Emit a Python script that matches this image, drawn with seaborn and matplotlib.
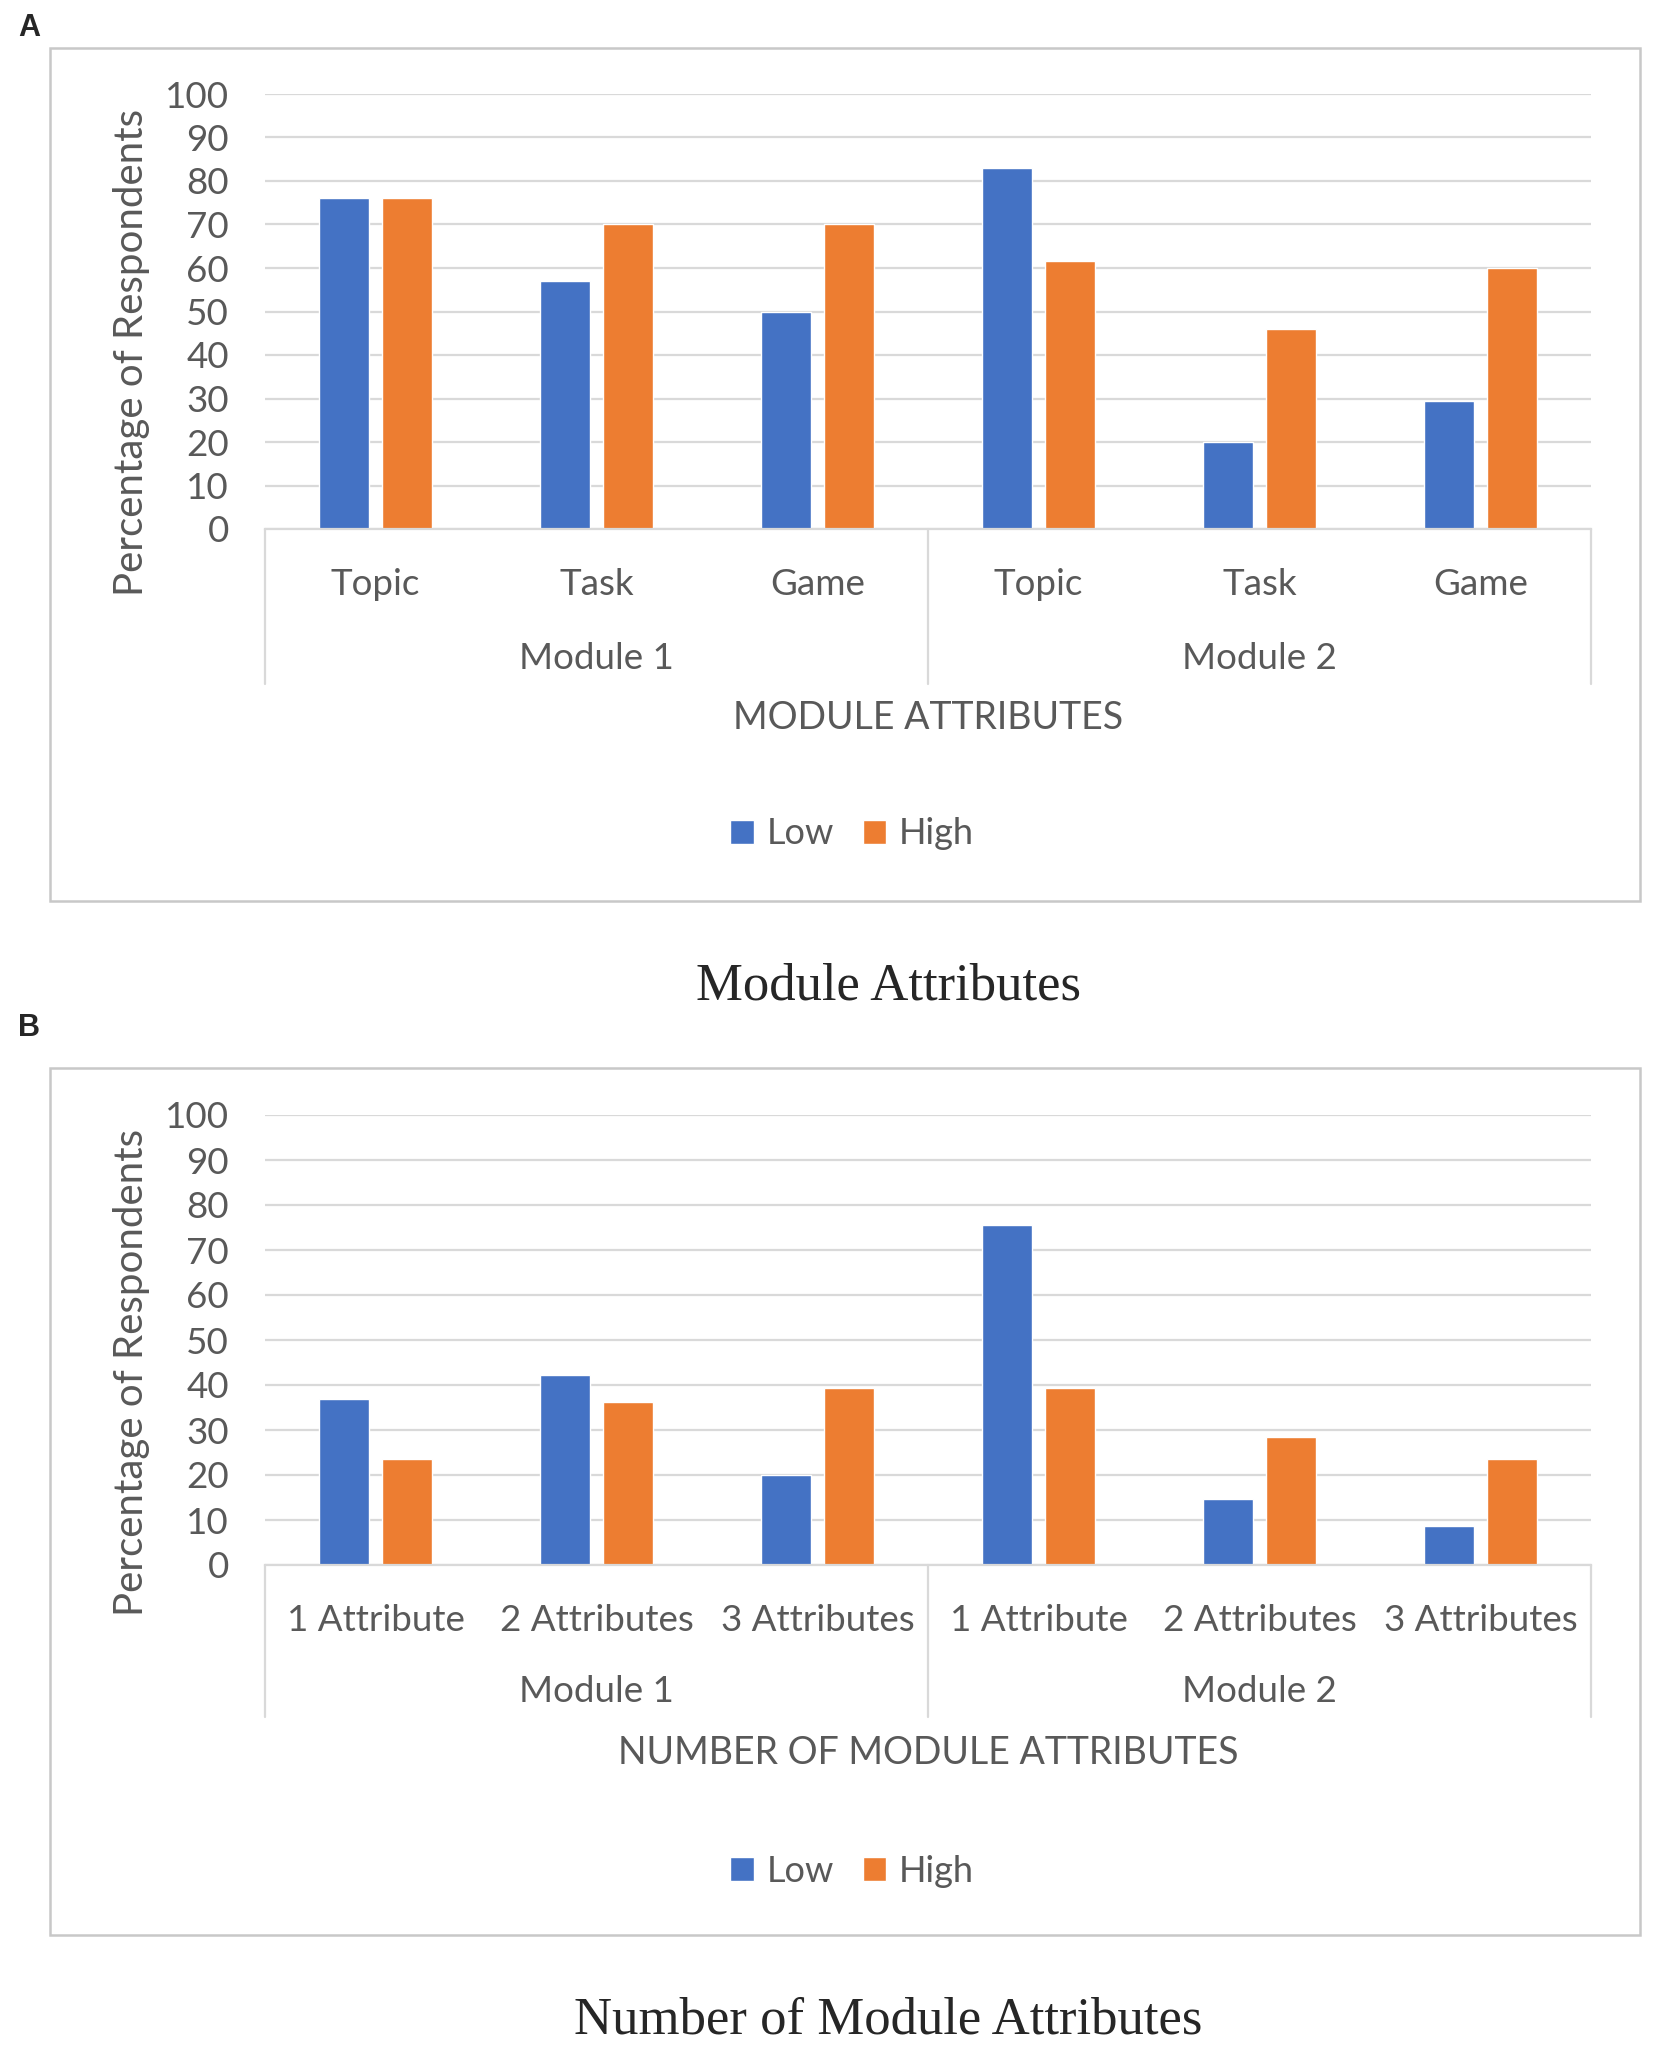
import pandas as pd
import seaborn as sns
import matplotlib.pyplot as plt
import matplotlib.transforms as mtransforms
from matplotlib.patches import Rectangle

# values
modules = ["Module 1", "Module 2"]
attributes = ["Topic", "Task", "Game"]
attr_counts = ["1 Attribute", "2 Attributes", "3 Attributes"]
levels = ["Low", "High"]

attr_low = [76, 57, 50, 83, 20, 29.5]
attr_high = [76, 70, 70, 61.5, 46, 60]

count_low = [37, 42.2, 20, 75.6, 14.7, 8.7]
count_high = [23.6, 36.3, 39.4, 39.4, 28.5, 23.6]

palette = {"Low": "#4472C4", "High": "#ED7D31"}
text_grey = "#595959"
line_grey = "#D9D9D9"

sns.set_theme(style="white")
plt.rcParams["font.family"] = ["Lato", "DejaVu Sans"]


def make_frame(cats, low, high):
    rows = []
    keys = []
    for m_i, mod in enumerate(modules):
        for c_i, cat in enumerate(cats):
            key = f"{mod}|{cat}"
            keys.append(key)
            k = m_i * len(cats) + c_i
            rows.append({"key": key, "level": "Low", "value": low[k]})
            rows.append({"key": key, "level": "High", "value": high[k]})
    return pd.DataFrame(rows), keys


def draw_panel(ax, cats, low, high, xtitle, sep_y, mod_y, title_y, ylab_y):
    df, keys = make_frame(cats, low, high)
    sns.barplot(data=df, x="key", y="value", hue="level", order=keys,
                hue_order=levels, palette=palette, width=0.57, gap=0.21,
                saturation=1, ax=ax)
    ax.set_ylim(0, 100)
    ax.set_yticks(range(0, 101, 10))
    ax.grid(axis="y", color=line_grey, linewidth=1.6)
    ax.set_axisbelow(True)
    for s in ["top", "right", "left"]:
        ax.spines[s].set_visible(False)
    ax.spines["bottom"].set_color(line_grey)
    ax.spines["bottom"].set_linewidth(1.6)
    ax.set_xticks(range(len(keys)))
    ax.set_xticklabels(cats * len(modules))
    ax.tick_params(axis="both", length=0, labelsize=26.5, colors=text_grey)
    ax.tick_params(axis="x", pad=28)
    ax.tick_params(axis="y", pad=26)
    ax.set_xlabel("")
    ax.set_ylabel("Percentage of Respondents", fontsize=29, color=text_grey)
    ax.yaxis.set_label_coords(-0.087, ylab_y)

    trans = mtransforms.blended_transform_factory(ax.transData, ax.transAxes)
    n = len(cats)
    for xb in [-0.5, n - 0.5, 2 * n - 0.5]:
        ax.plot([xb, xb], [0, sep_y], transform=trans, color=line_grey,
                linewidth=1.6, clip_on=False)
    for m_i, mod in enumerate(modules):
        ax.text(m_i * n + (n - 1) / 2, mod_y, mod, transform=trans,
                ha="center", va="center", fontsize=26.5, color=text_grey)
    ax.text(0.5, title_y, xtitle, transform=ax.transAxes, ha="center",
            va="center", fontsize=27, color=text_grey)
    ax.set_xlim(-0.5, 2 * n - 0.5)

    handles, labels = ax.get_legend_handles_labels()
    ax.get_legend().remove()
    return handles, labels


fig = plt.figure(figsize=(16.54, 20.5), dpi=100)

# outer boxes of the two chart panels
for y0, y1 in [(48, 901), (1068, 1935)]:
    fig.patches.append(Rectangle((50 / 1654, 1 - y1 / 2050), 1590 / 1654,
                                 (y1 - y0) / 2050, transform=fig.transFigure,
                                 fill=False, edgecolor="#C8C8C8", linewidth=1.8))

legend_kw = dict(loc="center", ncol=2, frameon=False, fontsize=26,
                 labelcolor=text_grey, handlelength=0.65, handleheight=0.65,
                 handletextpad=0.35, columnspacing=0.8)

ax_a = fig.add_axes([265 / 1654, 1 - 529 / 2050, 1326 / 1654, 435 / 2050])
h, l = draw_panel(ax_a, attributes, attr_low, attr_high, "MODULE ATTRIBUTES",
                  -0.356, -0.297, -0.434, 0.407)
fig.legend(h, l, bbox_to_anchor=(852 / 1654, 1 - 834 / 2050), **legend_kw)
fig.text(888 / 1654, 1 - 986 / 2050, "Module Attributes", ha="center",
         va="center", fontsize=38, family="Liberation Serif")
fig.text(29 / 1654, 1 - 28 / 2050, "A", ha="center", va="center",
         fontsize=22, fontweight="bold", family="Liberation Sans")

ax_b = fig.add_axes([265 / 1654, 1 - 1565 / 2050, 1326 / 1654, 450 / 2050])
h, l = draw_panel(ax_b, attr_counts, count_low, count_high,
                  "NUMBER OF MODULE ATTRIBUTES", -0.338, -0.282, -0.418, 0.429)
fig.legend(h, l, bbox_to_anchor=(852 / 1654, 1 - 1871 / 2050), **legend_kw)
fig.text(888 / 1654, 1 - 2021 / 2050, "Number of Module Attributes",
         ha="center", va="center", fontsize=38, family="Liberation Serif")
fig.text(29 / 1654, 1 - 1028 / 2050, "B", ha="center", va="center",
         fontsize=22, fontweight="bold", family="Liberation Sans")

fig.savefig("out.png", dpi=100, facecolor="white")
